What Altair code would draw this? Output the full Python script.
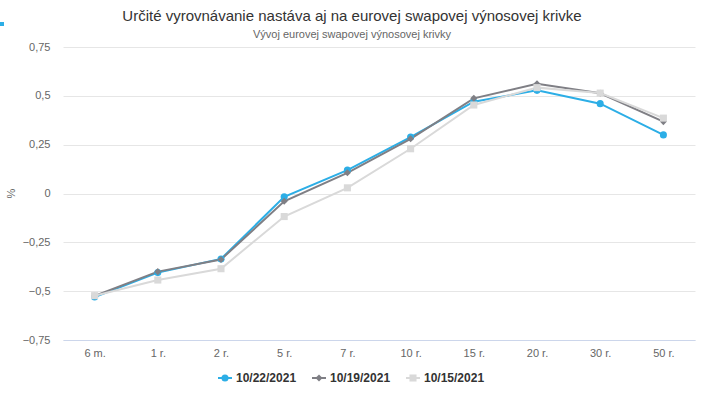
import altair as alt
import pandas as pd

categories = ["6 m.", "1 r.", "2 r.", "5 r.", "7 r.", "10 r.", "15 r.", "20 r.", "30 r.", "50 r."]
series_names = ["10/22/2021", "10/19/2021", "10/15/2021"]
vals_2210 = [-0.53, -0.405, -0.335, -0.017, 0.12, 0.289, 0.47, 0.528, 0.46, 0.30]
vals_1910 = [-0.525, -0.40, -0.338, -0.04, 0.106, 0.28, 0.487, 0.562, 0.513, 0.368]
vals_1510 = [-0.523, -0.443, -0.385, -0.118, 0.029, 0.229, 0.453, 0.542, 0.514, 0.386]
y_ticks = [-0.75, -0.5, -0.25, 0, 0.25, 0.5, 0.75]

colors = ["#2caee6", "#7f7f85", "#d9d9d9"]
shapes = ["circle", "diamond", "square"]

rows = []
for name, vals in zip(series_names, [vals_2210, vals_1910, vals_1510]):
    for c, v in zip(categories, vals):
        rows.append({"splatnost": c, "hodnota": v, "seria": name, "poradie": series_names.index(name)})
df = pd.DataFrame(rows)
legend_df = pd.DataFrame({"seria": series_names})

FONT = "Liberation Sans"

x_scale = alt.Scale(type="point", padding=0.5, domain=categories)
x_axis = alt.Axis(title=None, labelAngle=0, labelColor="#666666", labelFontSize=11,
                  labelFont=FONT, ticks=False, grid=False, domainColor="#ccd6eb",
                  domainWidth=1, labelPadding=7, zindex=1)
y_enc = alt.Y("hodnota:Q",
              scale=alt.Scale(domain=[-0.75, 0.75], nice=False, zero=False),
              axis=alt.Axis(title="%", values=y_ticks,
                            labelExpr="replace(format(datum.value, ''), '.', ',')",
                            labelColor="#666666", labelFontSize=11, labelFont=FONT,
                            ticks=False, domain=False, gridColor="#e6e6e6", gridWidth=1,
                            labelPadding=13, titleFont=FONT, titleFontSize=11,
                            titleFontWeight="normal", titleColor="#666666",
                            titleX=-47, titleY=146, titleAngle=-90))

stroke_scale = alt.Scale(domain=series_names, range=colors)
shape_scale = alt.Scale(domain=series_names, range=shapes)

base = alt.Chart(df)

lines = base.mark_line(strokeWidth=2).encode(
    x=alt.X("splatnost:N", scale=x_scale, axis=x_axis),
    y=y_enc,
    stroke=alt.Stroke("seria:N", scale=stroke_scale, legend=None),
    order=alt.Order("poradie:Q"),
)

points = base.mark_point(filled=True, opacity=1, size=50).encode(
    x=alt.X("splatnost:N", scale=x_scale, axis=None),
    y=y_enc,
    fill=alt.Fill("seria:N", scale=stroke_scale, legend=None),
    shape=alt.Shape("seria:N", scale=shape_scale, legend=None),
    order=alt.Order("poradie:Q"),
)

# manual legend (Highcharts style: line with marker, then label)
leg_x = alt.X("seria:N", sort=series_names,
              scale=alt.Scale(type="point", domain=series_names, range=[162, 350], padding=0),
              axis=None)
leg_base = alt.Chart(legend_df)
leg_line = leg_base.mark_point(shape="M-1,0L1,0", filled=False, strokeWidth=2, size=196, opacity=1).encode(
    x=leg_x, y=alt.value(331),
    stroke=alt.Stroke("seria:N", scale=stroke_scale, legend=None),
)
leg_marker = leg_base.mark_point(filled=True, size=50, opacity=1).encode(
    x=leg_x, y=alt.value(331),
    fill=alt.Fill("seria:N", scale=stroke_scale, legend=None),
    shape=alt.Shape("seria:N", scale=shape_scale, legend=None),
)
leg_text = leg_base.mark_text(align="left", baseline="middle", dx=11, font=FONT, fontSize=12,
                              fontWeight="bold", color="#333333").encode(
    x=leg_x, y=alt.value(331), text="seria:N",
)

corner = alt.Chart(pd.DataFrame({"a": [0]})).mark_square(color="#2caee6", size=16, opacity=1).encode(
    x=alt.value(-61), y=alt.value(-23)
)

chart = alt.layer(lines, points, leg_line, leg_marker, leg_text, corner).resolve_scale(
    x="independent"
).properties(
    width=632, height=293,
    autosize=alt.AutoSizeParams(type="none"),
    padding={"left": 63, "top": 47, "right": 9, "bottom": 60},
    title=alt.TitleParams(
        text="Určité vyrovnávanie nastáva aj na eurovej swapovej výnosovej krivke",
        subtitle="Vývoj eurovej swapovej výnosovej krivky",
        anchor="middle", dx=-27, offset=-18,
        font=FONT, fontSize=15, fontWeight="normal", color="#333333",
        subtitleFont=FONT, subtitleFontSize=11, subtitleColor="#666666", subtitlePadding=5,
    ),
).configure_view(stroke=None)

chart.save("out.html", embed_options={"renderer": "svg", "actions": False})
